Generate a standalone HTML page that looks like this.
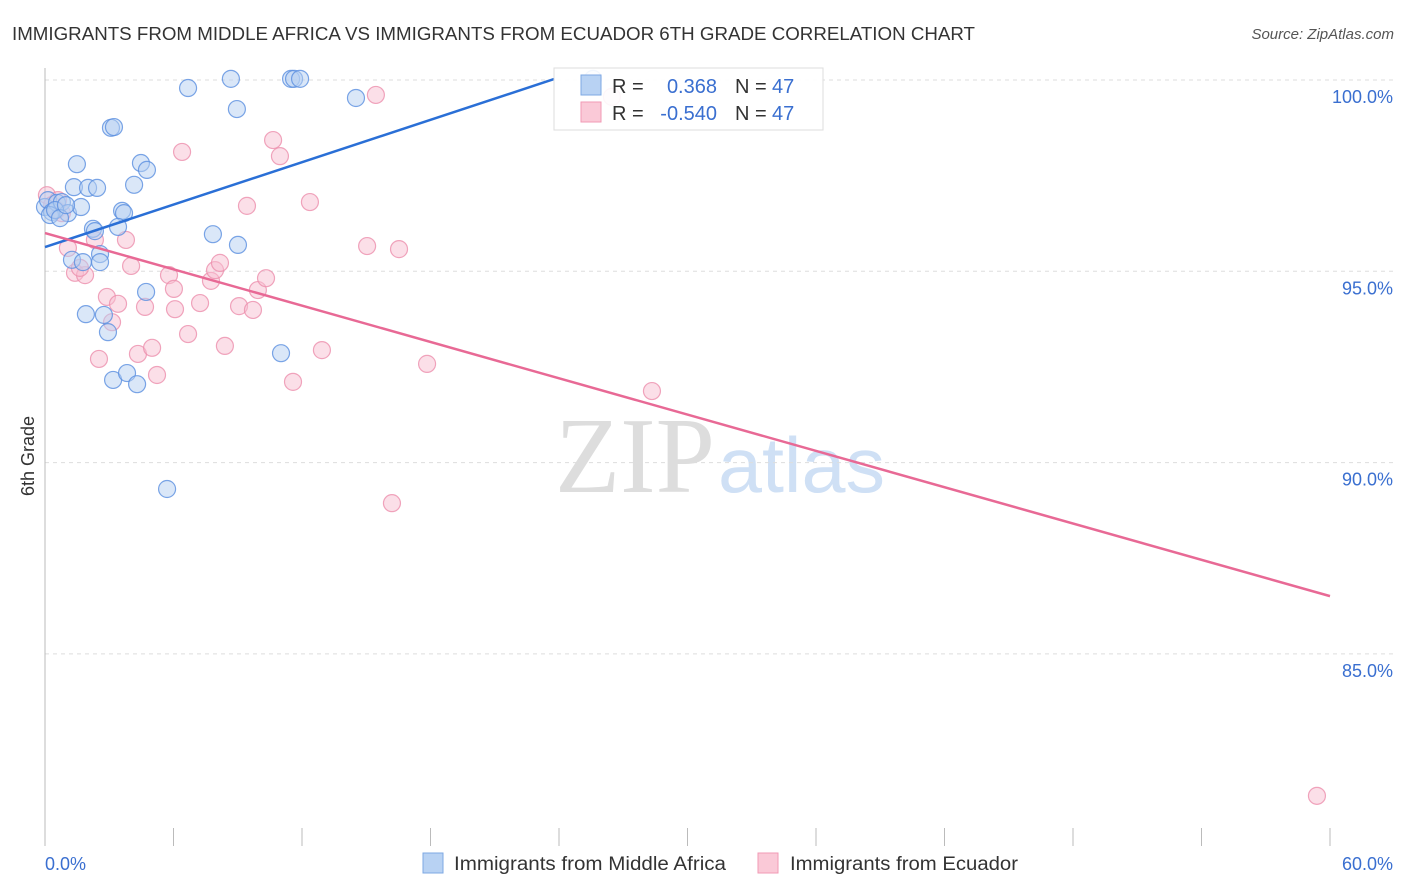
<!DOCTYPE html>
<html><head><meta charset="utf-8">
<style>
body{margin:0;background:#fff;font-family:"Liberation Sans",sans-serif;}
#wrap{position:relative;width:1406px;height:892px;overflow:hidden;}
</style></head>
<body>
<div id="wrap">
<svg id="svg" width="1406" height="892" xmlns="http://www.w3.org/2000/svg">
<text x="12" y="40" font-size="18" fill="#333" textLength="963" lengthAdjust="spacingAndGlyphs">IMMIGRANTS FROM MIDDLE AFRICA VS IMMIGRANTS FROM ECUADOR 6TH GRADE CORRELATION CHART</text>
<text x="1394" y="39" font-size="15" fill="#555" text-anchor="end" font-style="italic">Source: ZipAtlas.com</text>
<text x="555" y="492" font-size="108" fill="#ddd" textLength="160" lengthAdjust="spacingAndGlyphs" font-family="Liberation Serif,serif">ZIP</text>
<text x="718" y="492" font-size="78" fill="#cfe0f5" textLength="167" lengthAdjust="spacingAndGlyphs">atlas</text>
<g id="grid"></g>
<g id="axes"></g>
<g id="pts"></g>
<g id="lines"></g>
<text transform="translate(34,456) rotate(-90)" font-size="18" fill="#333" text-anchor="middle">6th Grade</text>
<g>
<rect x="554" y="68" width="269" height="62" fill="#fff" fill-opacity="0.9" stroke="#ddd"/>
<rect x="581" y="75" width="20" height="20" fill="#b8d2f3" stroke="#7ea8e3"/>
<rect x="581" y="102" width="20" height="20" fill="#fac9d7" stroke="#f19ab4"/>
<text x="612" y="93" font-size="20" fill="#333">R = </text>
<text x="717" y="93" font-size="20" fill="#3a6fd0" text-anchor="end">0.368</text>
<text x="735" y="93" font-size="20" fill="#333">N = </text>
<text x="772" y="93" font-size="20" fill="#3a6fd0">47</text>
<text x="612" y="120" font-size="20" fill="#333">R = </text>
<text x="717" y="120" font-size="20" fill="#3a6fd0" text-anchor="end">-0.540</text>
<text x="735" y="120" font-size="20" fill="#333">N = </text>
<text x="772" y="120" font-size="20" fill="#3a6fd0">47</text>
</g>
<g>
<rect x="423" y="853" width="20" height="20" fill="#b8d2f3" stroke="#7ea8e3"/>
<text x="454" y="870" font-size="19" fill="#333" textLength="272" lengthAdjust="spacingAndGlyphs">Immigrants from Middle Africa</text>
<rect x="758" y="853" width="20" height="20" fill="#fac9d7" stroke="#f19ab4"/>
<text x="790" y="870" font-size="19" fill="#333" textLength="228" lengthAdjust="spacingAndGlyphs">Immigrants from Ecuador</text>
</g>
</svg>
</div>
<script>
const blueX=[0.0,0.14,0.33,0.56,0.79,1.07,1.49,1.35,1.68,2.01,2.43,2.24,2.33,1.26,1.77,2.57,2.57,1.91,2.75,2.94,3.08,3.22,4.48,4.76,4.16,3.60,3.69,3.41,4.72,3.18,3.83,4.30,5.70,6.68,8.68,8.96,7.84,9.01,11.02,11.49,11.63,11.91,14.52,0.23,0.47,0.70,0.98,25.59];
const blueY=[96.68,96.86,96.55,96.79,96.81,96.52,97.80,97.20,96.68,97.18,97.18,96.11,96.05,95.30,95.24,95.45,95.24,93.88,93.86,93.41,98.75,98.77,97.83,97.65,97.26,96.58,96.52,96.16,94.46,92.16,92.34,92.05,89.31,99.79,100.03,99.24,95.97,95.69,92.86,100.03,100.03,100.03,99.53,96.47,96.60,96.39,96.73,100.03];
const pinkX=[0.09,0.33,0.56,0.79,1.07,1.40,1.87,1.63,2.33,2.52,2.89,3.13,3.41,3.78,4.02,4.34,4.67,5.00,5.23,5.79,6.02,6.07,6.40,6.68,7.24,7.75,7.94,8.17,8.40,9.06,9.43,9.71,9.94,10.32,10.65,10.97,11.58,12.37,12.93,15.04,15.45,16.20,16.53,17.84,28.34,59.39,0.61,26.47];
const pinkY=[96.99,96.73,96.60,96.52,95.61,94.96,94.90,95.09,95.82,92.71,94.33,93.67,94.15,95.82,95.14,92.84,94.07,93.00,92.29,94.90,94.54,94.01,98.12,93.36,94.17,94.75,95.03,95.22,93.05,94.09,96.71,93.99,94.51,94.82,98.43,98.01,92.11,96.81,92.94,95.66,99.61,88.94,95.58,92.58,91.87,81.29,96.86,99.56];
const blueTrend=[[0,95.635],[23.8,100.03]];
const pinkTrend=[[0,96.0],[60,86.51]];
const yTicks=[100,95,90,85];
const yTickLabels=["100.0%","95.0%","90.0%","85.0%"];
const xTickVals=[0,6,12,18,24,30,36,42,48,54,60];

const NS="http://www.w3.org/2000/svg";
function sx(v){return 45+v*(1285/60);}
function sy(v){return 80+(100-v)*38.26;}
function mk(tag,attrs,parent){const e=document.createElementNS(NS,tag);for(const k in attrs)e.setAttribute(k,attrs[k]);document.getElementById(parent).appendChild(e);return e;}

yTicks.forEach((t,i)=>{
  const g=mk('line',{x1:45,x2:1393,y1:sy(t),y2:sy(t),stroke:'#ddd','stroke-dasharray':'4,4'},'grid');
  
  
  const tx=mk('text',{x:1393,y:sy(t)+23,'font-size':18,fill:'#3a6fd0','text-anchor':'end'},'axes');
  tx.textContent=yTickLabels[i];
  
  
});
const ya=mk('line',{x1:45,x2:45,y1:68,y2:846,stroke:'#bbb'},'axes');


xTickVals.forEach(v=>{
  const t=mk('line',{x1:sx(v),x2:sx(v),y1:828,y2:846,stroke:'#bbb'},'axes');
  
  
});
const xl0=mk('text',{x:45,y:870,'font-size':18,fill:'#3a6fd0'},'axes');
xl0.textContent='0.0%';


const xl1=mk('text',{x:1393,y:870,'font-size':18,fill:'#3a6fd0','text-anchor':'end'},'axes');
xl1.textContent='60.0%';



function pts(X,Y,fill,stroke,name){
  X.forEach((x,i)=>{
    const c=mk('circle',{cx:sx(x),cy:sy(Y[i]),r:8.5,fill:fill,'fill-opacity':0.5,stroke:stroke,'stroke-opacity':0.8,'stroke-width':1.2},'pts');
    
    
  });
}
pts(pinkX,pinkY,'#f8c0d2','#ec8fad','point-ecuador');
pts(blueX,blueY,'#b5d0f2','#5a8fe0','point-middle-africa');

const bl=mk('line',{x1:sx(blueTrend[0][0]),y1:sy(blueTrend[0][1]),x2:sx(blueTrend[1][0]),y2:sy(blueTrend[1][1]),stroke:'#2a6fd6','stroke-width':2.5},'lines');


const pl=mk('line',{x1:sx(pinkTrend[0][0]),y1:sy(pinkTrend[0][1]),x2:sx(pinkTrend[1][0]),y2:sy(pinkTrend[1][1]),stroke:'#e86995','stroke-width':2.5},'lines');


</script>
</body></html>
